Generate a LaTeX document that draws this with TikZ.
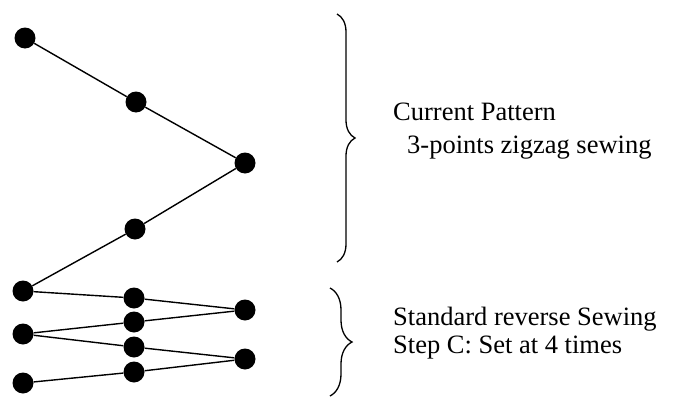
\documentclass[tikz,border=0pt]{standalone}
\usepackage{fontspec}
\setmainfont{Liberation Serif}
\usetikzlibrary{decorations.pathreplacing}
\tikzset{
  stitch/.style={circle,fill=black,inner sep=0pt,minimum size=21pt},
  thread/.style={line width=1.4pt},
  bracket/.style={line width=1.3pt,decorate,decoration={brace,amplitude=#1}},
  label/.style={anchor=base west,inner sep=0pt,font=\fontsize{26.5}{30}\selectfont}
}
\begin{document}
\begin{tikzpicture}[x=1pt,y=-1pt]
  \useasboundingbox (0,0) rectangle (673,399);
  % current pattern
  \node[stitch] (p1) at (25,38) {};
  \node[stitch] (p2) at (136,102) {};
  \node[stitch] (p3) at (245,163) {};
  \node[stitch] (p4) at (135,229) {};
  \node[stitch] (p5) at (23,291) {};
  \draw[thread] (p1)--(p2)--(p3)--(p4)--(p5);
  % reverse sewing
  \node[stitch] (b1) at (134,298) {};
  \node[stitch] (c1) at (245,310) {};
  \node[stitch] (b2) at (134,322) {};
  \node[stitch] (a2) at (23,334) {};
  \node[stitch] (b3) at (134,347) {};
  \node[stitch] (c2) at (245,359) {};
  \node[stitch] (b4) at (134,372) {};
  \node[stitch] (a3) at (23,383) {};
  \draw[thread] (p5)--(b1)--(c1)--(b2)--(a2)--(b3)--(c2)--(b4)--(a3);
  % braces
  \coordinate (top1) at (337,14);
  \coordinate (bot1) at (337,262);
  \coordinate (top2) at (330,288);
  \coordinate (bot2) at (330,396);
  \draw[bracket=18pt] (top1) -- (bot1);
  \draw[bracket=22pt] (top2) -- (bot2);
  \node[label] (cur) at (393,120) {Current Pattern};
  \node[label] (zig) at (407,153) {3-points zigzag sewing};
  \node[label] (std) at (393,325) {Standard reverse Sewing};
  \node[label] (stp) at (393,353) {Step C: Set at 4 times};
\end{tikzpicture}
\end{document}
